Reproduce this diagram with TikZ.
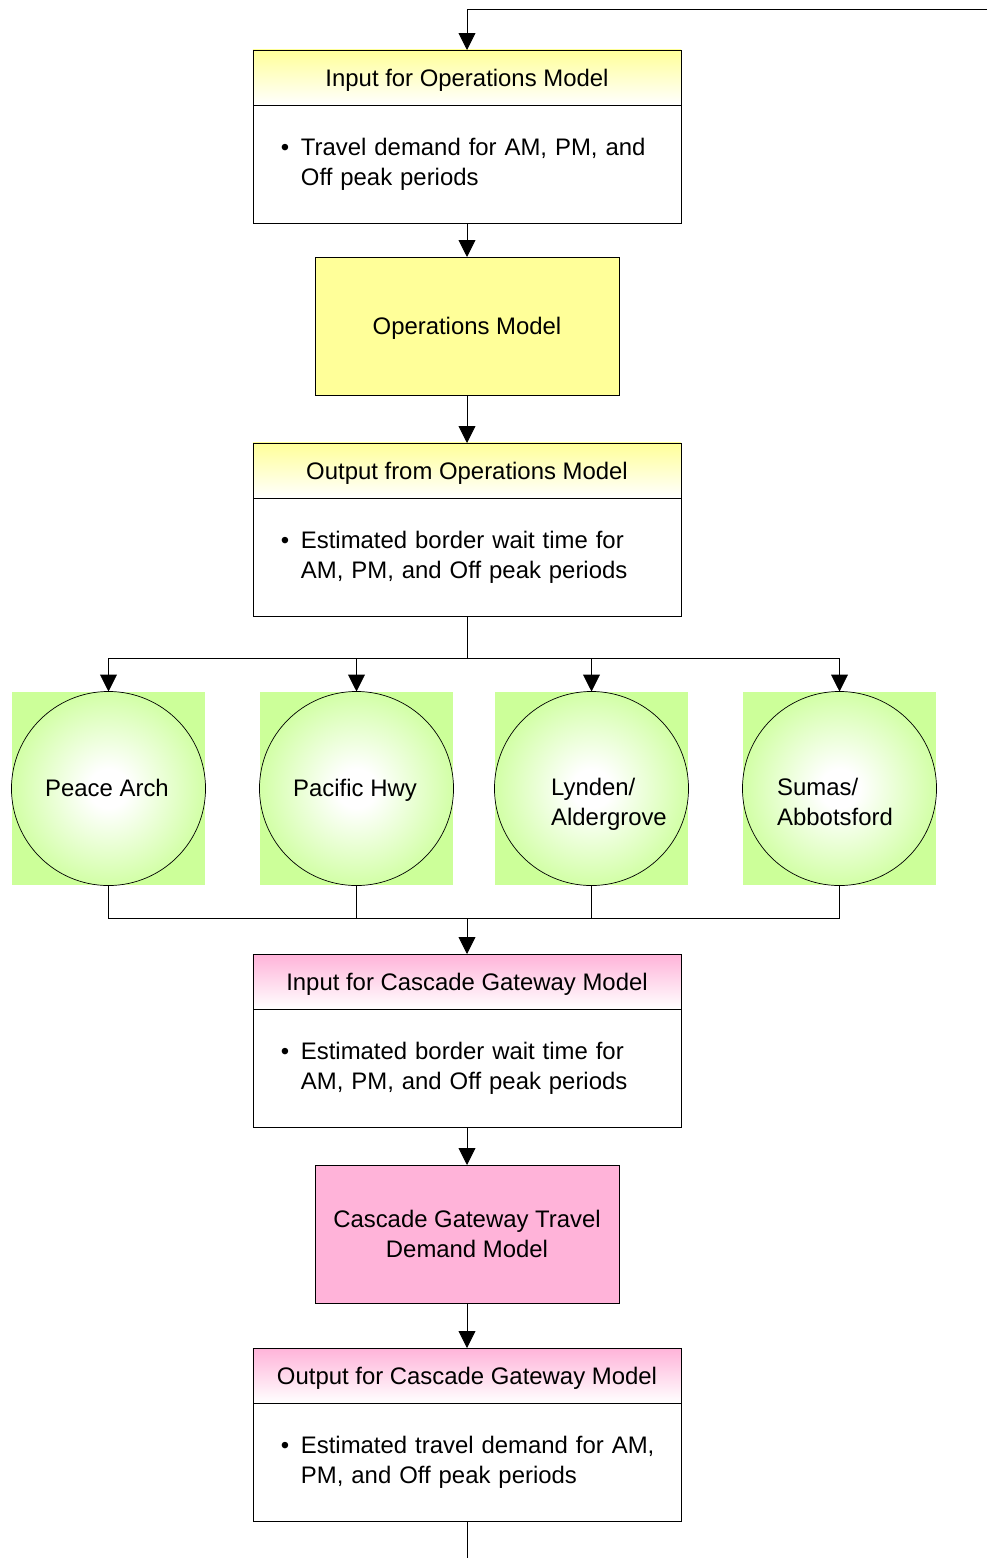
\documentclass[tikz,border=0pt]{standalone}
\usepackage{fontspec}
\setmainfont{Liberation Sans}
\usetikzlibrary{arrows.meta,positioning}

\definecolor{opsyellow}{HTML}{FFFF99}
\definecolor{cgpink}{HTML}{FFB3D9}
\definecolor{xinggreen}{HTML}{CCFF99}
\definecolor{ringgreen}{HTML}{D2FFA6}
\pgfdeclareradialshading{xingglow}{\pgfpoint{0bp}{0bp}}{color(0bp)=(white); color(5bp)=(white); color(25bp)=(ringgreen); color(50bp)=(ringgreen)}

\newcommand{\bul}{\hspace*{0.15cm}\makebox[0.5cm][l]{\textbullet}}
\newcommand{\hang}{\hspace*{0.65cm}}

\tikzset{
  every node/.style={font=\fontsize{17}{21.3}\selectfont, outer sep=0pt},
  conn/.style={line width=0.6pt},
  arr/.style={conn, -{Triangle[length=0.42cm,width=0.42cm]}},
  hdr/.style={draw, line width=0.6pt, minimum width=10.7cm, minimum height=1.375cm, inner sep=0pt, text depth=0pt},
  body/.style={draw, line width=0.6pt, minimum width=10.7cm, minimum height=2.95cm, text width=9.6cm, align=left, inner sep=0pt},
  model/.style={draw, line width=0.6pt, minimum width=7.6cm, minimum height=3.45cm, align=center, inner sep=0pt, text depth=0pt},
  xing/.style={fill=xinggreen, minimum size=4.825cm, inner sep=0pt},
  ring/.style={circle, draw, line width=0.5pt, minimum size=4.85cm, inner sep=0pt, shading=xingglow},
  ringtext/.style={align=left, inner sep=0pt, text depth=0pt}
}

\begin{document}
\begin{tikzpicture}[x=0.025cm, y=-0.025cm]
  \useasboundingbox (0,0) rectangle (987,1558);

  % Operations model
  \node[hdr, top color=opsyellow, bottom color=white] (inOps) at (467,77.5) {Input for Operations Model};
  \node[body, below=0pt of inOps] (inOpsBody) {\bul Travel demand for AM, PM, and\\ \hang Off peak periods};
  \node[model, fill=opsyellow] (opsModel) at (467,326) {Operations Model};
  \node[hdr, top color=opsyellow, bottom color=white] (outOps) at (467,470.5) {Output from Operations Model};
  \node[body, below=0pt of outOps] (outOpsBody) {\bul Estimated border wait time for\\ \hang AM, PM, and Off peak periods};

  % Crossings
  \node[xing] (paSq) at (108.5,788.5) {};
  \node[xing] (phSq) at (356.5,788.5) {};
  \node[xing] (laSq) at (591.5,788.5) {};
  \node[xing] (saSq) at (839.5,788.5) {};
  \node[ring] (pa) at (108.5,788.5) {};
  \node[ring] (ph) at (356.5,788.5) {};
  \node[ring] (la) at (591.5,788.5) {};
  \node[ring] (sa) at (839.5,788.5) {};
  \node[ringtext] (paText) at (107,788) {Peace Arch};
  \node[ringtext] (phText) at (355,788) {Pacific Hwy};
  \node[ringtext] (laText) at (609,802) {Lynden/\\Aldergrove};
  \node[ringtext] (saText) at (835,802) {Sumas/\\Abbotsford};

  % Cascade Gateway model
  \node[hdr, top color=cgpink, bottom color=white] (inCG) at (467,981.5) {Input for Cascade Gateway Model};
  \node[body, below=0pt of inCG] (inCGBody) {\bul Estimated border wait time for\\ \hang AM, PM, and Off peak periods};
  \node[model, fill=cgpink] (cgModel) at (467,1234) {Cascade Gateway Travel\\Demand Model};
  \node[hdr, top color=cgpink, bottom color=white] (outCG) at (467,1375.5) {Output for Cascade Gateway Model};
  \node[body, below=0pt of outCG] (outCGBody) {\bul Estimated travel demand for AM,\\ \hang PM, and Off peak periods};

  % Connectors
  \coordinate (loopIn) at (987,9);
  \coordinate (split) at (467,658);
  \coordinate (join) at (467,918);
  \coordinate (loopOut) at (467,1558);

  \draw[arr] (loopIn) -| (inOps.north);
  \draw[arr] (inOpsBody.south) -- (opsModel.north);
  \draw[arr] (opsModel.south) -- (outOps.north);
  \draw[conn] (outOpsBody.south) -- (split);
  \foreach \c in {pa,ph,la,sa}
    \draw[arr] (split) -| (\c.north);
  \foreach \c in {pa,ph,la,sa}
    \draw[conn] (\c.south) |- (join);
  \draw[arr] (join) -- (inCG.north);
  \draw[arr] (inCGBody.south) -- (cgModel.north);
  \draw[arr] (cgModel.south) -- (outCG.north);
  \draw[conn] (outCGBody.south) -- (loopOut);
\end{tikzpicture}
\end{document}
